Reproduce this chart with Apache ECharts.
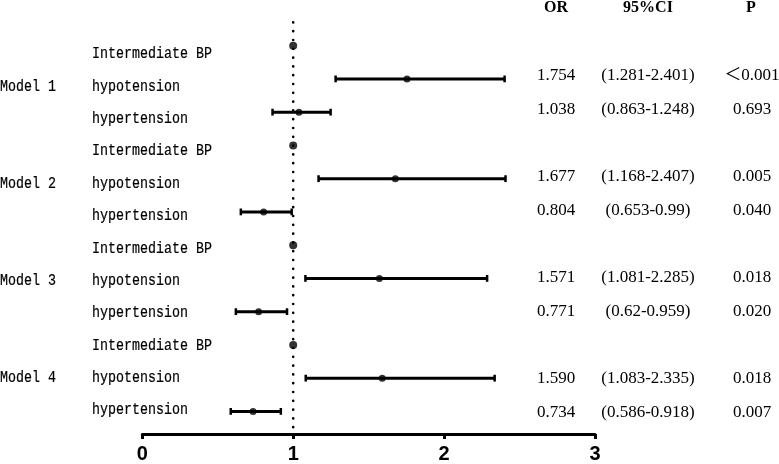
<!DOCTYPE html>
<html><head><meta charset="utf-8">
<script src="https://cdn.jsdelivr.net/npm/echarts@6/dist/echarts.min.js"></script>
<style>html,body{margin:0;padding:0;background:#fff}#c{width:779px;height:464px}</style>
</head><body><div id="c"></div>
<script>
const models = ['Model 1', 'Model 2', 'Model 3', 'Model 4'];
const groups = ['Intermediate BP', 'hypotension', 'hypertension'];
const refOR = 1;
// per model: [hypotension, hypertension]
const orValues = [1.754, 1.038, 1.677, 0.804, 1.571, 0.771, 1.590, 0.734];
const ciLow = [1.281, 0.863, 1.168, 0.653, 1.081, 0.62, 1.083, 0.586];
const ciHigh = [2.401, 1.248, 2.407, 0.99, 2.285, 0.959, 2.335, 0.918];
const pText = ['＜0.001', '0.693', '0.005', '0.040', '0.018', '0.020', '0.018', '0.007'];
const headers = ['OR', '95%CI', 'P'];
const xTicks = [0, 1, 2, 3];

const refPts = [], orPts = [], bars = [], labelRows = [], tableRows = [];
models.forEach((m, mi) => {
  const base = mi * 3 + 1;
  refPts.push([refOR, base]);
  groups.forEach((g, gi) => labelRows.push({row: base + gi, text: g, model: gi === 1 ? m : null}));
  for (let k = 0; k < 2; k++) {
    const i = mi * 2 + k;
    const row = base + 1 + k;
    orPts.push([orValues[i], row]);
    bars.push([ciLow[i], ciHigh[i], row]);
    tableRows.push({row, or: orValues[i].toFixed(3), ci: '(' + String(ciLow[i]) + '-' + String(ciHigh[i]) + ')', p: pText[i]});
  }
});

const chart = echarts.init(document.getElementById('c'), null, {renderer: 'canvas'});
const monoFont = '"Liberation Mono", monospace';
const serifFont = '"Liberation Serif", "Noto Sans CJK SC", serif';
const monoSize = 16.5;
const monoScaleX = 8 / (0.6 * monoSize);

function monoText(x, y, text) {
  return {type: 'text', x, y, scaleX: monoScaleX, scaleY: 1,
    style: {text, fill: '#000', stroke: '#000', lineWidth: 0.2, font: monoSize + 'px ' + monoFont, textAlign: 'left', textVerticalAlign: 'middle'}};
}

chart.setOption({
  animation: false,
  backgroundColor: '#fff',
  grid: {left: 142.3, right: 184, top: 12.4, bottom: 29},
  xAxis: {
    type: 'value', min: 0, max: 3, interval: 1, position: 'bottom',
    axisLine: {show: true, onZero: false, lineStyle: {color: '#000', width: 3}},
    axisTick: {show: true, length: 5, lineStyle: {color: '#000', width: 3}},
    splitLine: {show: false},
    axisLabel: {color: '#000', fontSize: 20, fontWeight: 'bold', fontFamily: '"Liberation Sans", Arial, sans-serif', margin: 10,
      formatter: v => xTicks.includes(v) ? String(v) : ''}
  },
  yAxis: {type: 'value', min: 0, max: 12.68, inverse: true, show: false},
  graphic: headers.map((h, i) => ({
    type: 'text', x: [556, 648, 751][i], y: 8,
    style: {text: h, fill: '#000', font: 'bold 16px ' + serifFont, textAlign: 'center', textVerticalAlign: 'middle'}
  })),
  series: [
    {
      type: 'line', data: [[refOR, 0.3], [refOR, 12.58]], symbol: 'none', silent: true, z: 1,
      lineStyle: {color: '#000', width: 2.6, type: [0.1, 8.7], cap: 'round'}
    },
    {
      type: 'custom', data: bars, z: 3, clip: false,
      renderItem: (params, api) => {
        const a = api.coord([api.value(0), api.value(2)]);
        const b = api.coord([api.value(1), api.value(2)]);
        const h = 3.4;
        return {type: 'group', children: [
          {type: 'line', shape: {x1: a[0], y1: a[1], x2: b[0], y2: b[1]}, style: {stroke: '#000', lineWidth: 3}},
          {type: 'line', shape: {x1: a[0], y1: a[1] - h, x2: a[0], y2: a[1] + h}, style: {stroke: '#000', lineWidth: 2.5}},
          {type: 'line', shape: {x1: b[0], y1: b[1] - h, x2: b[0], y2: b[1] + h}, style: {stroke: '#000', lineWidth: 2.5}}
        ]};
      }
    },
    {type: 'scatter', data: orPts, symbol: 'circle', symbolSize: 7, itemStyle: {color: '#000'}, z: 4},
    {type: 'scatter', data: refPts, symbol: 'circle', symbolSize: 8, itemStyle: {color: '#000'}, z: 4},
    {
      type: 'custom', data: labelRows.map(d => [0, d.row]), z: 5, clip: false, silent: true,
      renderItem: (params, api) => {
        const d = labelRows[params.dataIndex];
        const i = d.row - 1;
        const y = api.coord([0, 1.25 + i * 0.9736])[1];
        const ch = [monoText(92, y, d.text)];
        if (d.model) ch.push(monoText(0, y, d.model));
        return {type: 'group', children: ch};
      }
    },
    {
      type: 'custom', data: tableRows.map(d => [0, d.row]), z: 5, clip: false, silent: true,
      renderItem: (params, api) => {
        const d = tableRows[params.dataIndex];
        const y = api.coord([0, 1.9 + (d.row - 2) * 1.0135])[1];
        const f = '17px ' + serifFont;
        return {type: 'group', children: [
          {type: 'text', x: 556, y, style: {text: d.or, fill: '#000', font: f, textAlign: 'center', textVerticalAlign: 'middle'}},
          {type: 'text', x: 648, y, style: {text: d.ci, fill: '#000', font: f, textAlign: 'center', textVerticalAlign: 'middle'}},
          {type: 'text', x: 752, y, style: {text: d.p, fill: '#000', font: f, textAlign: 'center', textVerticalAlign: 'middle'}}
        ]};
      }
    }
  ]
});
</script></body></html>
